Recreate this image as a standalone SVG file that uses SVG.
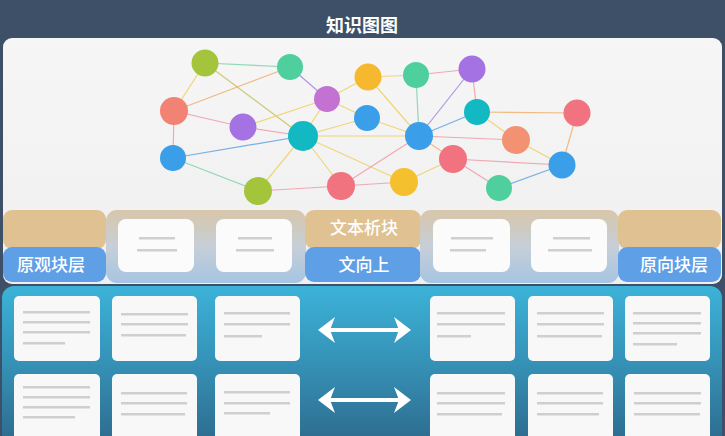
<svg xmlns="http://www.w3.org/2000/svg" width="725" height="436" viewBox="0 0 725 436">
<defs>
<linearGradient id="topPanel" x1="0" y1="0" x2="0" y2="1"><stop offset="0" stop-color="#f6f6f6"/><stop offset="1" stop-color="#efefef"/></linearGradient>
<linearGradient id="mid" x1="0" y1="0" x2="0" y2="1"><stop offset="0" stop-color="#d8c6aa"/><stop offset="0.5" stop-color="#c6cfd8"/><stop offset="1" stop-color="#a6c4e2"/></linearGradient>
<linearGradient id="bottomPanel" x1="0" y1="0" x2="0" y2="1"><stop offset="0" stop-color="#3cb2d8"/><stop offset="0.5" stop-color="#3590b5"/><stop offset="1" stop-color="#2d6a8c"/></linearGradient>
</defs>
<style>
.title{font-family:"Noto Sans CJK SC","Noto Sans",sans-serif;font-weight:700;font-size:18px;fill:#ffffff}
.lbl{font-family:"Noto Sans CJK SC","Noto Sans",sans-serif;font-weight:500;font-size:17px;fill:#ffffff;text-anchor:middle}
.tan{fill:#e0c292}
.blue{fill:#5f9fe6}
.card{fill:#f8f8f8}
.bcard{fill:#fbfbfb}
.ln{fill:#cfcfcf}
.e{stroke-width:1.2;fill:none;opacity:0.85}
.y{stroke:#f0d060}.p{stroke:#f09aa8}.g{stroke:#7ed3a8}.b{stroke:#5fa2e2}.v{stroke:#a585e0}.o{stroke:#f0b070}.ol{stroke:#c8c060}
.arrow{stroke:#ffffff;stroke-width:4;fill:none}
.head{fill:#ffffff}
</style>
<rect x="0" y="0" width="725" height="436" fill="#3d5068"/>
<text class="title" x="362" y="32" text-anchor="middle">知识图图</text>
<rect x="3" y="38" width="719" height="246" rx="9" fill="url(#topPanel)"/>

<g id="connectors">
<line class="e g" x1="205" y1="63" x2="290" y2="67"/>
<line class="e y" x1="205" y1="63" x2="174" y2="111"/>
<line class="e ol" x1="205" y1="63" x2="303" y2="136"/>
<line class="e o" x1="174" y1="111" x2="290" y2="67"/>
<line class="e v" x1="290" y1="67" x2="327" y2="99"/>
<line class="e p" x1="174" y1="111" x2="243" y2="127"/>
<line class="e p" x1="174" y1="111" x2="173" y2="158"/>
<line class="e p" x1="243" y1="127" x2="303" y2="136"/>
<line class="e y" x1="243" y1="127" x2="327" y2="99"/>
<line class="e y" x1="327" y1="99" x2="303" y2="136"/>
<line class="e y" x1="327" y1="99" x2="368" y2="77"/>
<line class="e y" x1="327" y1="99" x2="367" y2="118"/>
<line class="e y" x1="368" y1="77" x2="416" y2="75"/>
<line class="e y" x1="368" y1="77" x2="419" y2="136"/>
<line class="e p" x1="416" y1="75" x2="472" y2="69"/>
<line class="e g" x1="416" y1="75" x2="419" y2="136"/>
<line class="e v" x1="472" y1="69" x2="419" y2="136"/>
<line class="e p" x1="472" y1="69" x2="477" y2="112"/>
<line class="e b" x1="303" y1="136" x2="173" y2="158"/>
<line class="e y" x1="303" y1="136" x2="367" y2="118"/>
<line class="e y" x1="303" y1="136" x2="419" y2="136"/>
<line class="e y" x1="303" y1="136" x2="258" y2="191"/>
<line class="e y" x1="303" y1="136" x2="341" y2="186"/>
<line class="e y" x1="303" y1="136" x2="404" y2="182"/>
<line class="e y" x1="367" y1="118" x2="419" y2="136"/>
<line class="e b" x1="419" y1="136" x2="477" y2="112"/>
<line class="e p" x1="419" y1="136" x2="341" y2="186"/>
<line class="e p" x1="419" y1="136" x2="516" y2="140"/>
<line class="e o" x1="419" y1="136" x2="453" y2="159"/>
<line class="e o" x1="477" y1="112" x2="577" y2="113"/>
<line class="e y" x1="477" y1="112" x2="516" y2="140"/>
<line class="e o" x1="577" y1="113" x2="562" y2="165"/>
<line class="e y" x1="516" y1="140" x2="562" y2="165"/>
<line class="e p" x1="453" y1="159" x2="562" y2="165"/>
<line class="e y" x1="453" y1="159" x2="404" y2="182"/>
<line class="e p" x1="453" y1="159" x2="499" y2="188"/>
<line class="e b" x1="562" y1="165" x2="499" y2="188"/>
<line class="e g" x1="173" y1="158" x2="258" y2="191"/>
<line class="e p" x1="258" y1="191" x2="341" y2="186"/>
<line class="e p" x1="341" y1="186" x2="404" y2="182"/>
</g>

<g id="graph-nodes">
<circle id="n1" cx="205" cy="63" r="13.5" fill="#a4c43c"/>
<circle id="n2" cx="290" cy="67" r="13" fill="#4fcf9e"/>
<circle id="n3" cx="174" cy="111" r="14" fill="#f28274"/>
<circle id="n4" cx="327" cy="99" r="13" fill="#c472d2"/>
<circle id="n5" cx="368" cy="77" r="13.5" fill="#f5b82e"/>
<circle id="n6" cx="416" cy="75" r="13" fill="#4fcf9e"/>
<circle id="n7" cx="472" cy="69" r="13.5" fill="#a472e2"/>
<circle id="n8" cx="243" cy="127" r="13.5" fill="#a472e2"/>
<circle id="n9" cx="303" cy="136" r="15" fill="#12b8c2"/>
<circle id="n10" cx="367" cy="118" r="13" fill="#3a9ee8"/>
<circle id="n11" cx="419" cy="136" r="14" fill="#3a9ee8"/>
<circle id="n12" cx="477" cy="112" r="13" fill="#12b8c2"/>
<circle id="n13" cx="577" cy="113" r="13.5" fill="#f0737f"/>
<circle id="n14" cx="516" cy="140" r="14" fill="#f29272"/>
<circle id="n15" cx="173" cy="158" r="13" fill="#3a9ee8"/>
<circle id="n16" cx="453" cy="159" r="14" fill="#f0737f"/>
<circle id="n17" cx="562" cy="165" r="13.5" fill="#3a9ee8"/>
<circle id="n18" cx="258" cy="191" r="14" fill="#a4c43c"/>
<circle id="n19" cx="341" cy="186" r="14" fill="#f0737f"/>
<circle id="n20" cx="404" cy="182" r="14" fill="#f5c02e"/>
<circle id="n21" cx="499" cy="188" r="13" fill="#4fcf9e"/>
</g>

<g id="left-block">
<rect class="tan" x="3" y="210" width="103" height="39" rx="9"/>
<rect class="blue" x="3" y="247" width="103" height="35" rx="9"/>
<text class="lbl" x="51" y="271">原观块层</text>
</g>
<g id="left-mid">
<rect x="106" y="210" width="200" height="73" rx="11" fill="url(#mid)"/>
<rect class="bcard" x="118" y="219" width="76" height="53" rx="8"/>
<rect class="ln" x="139" y="237" width="36" height="2.5"/>
<rect class="ln" x="137" y="249" width="40" height="2.5"/>
<rect class="bcard" x="216" y="219" width="76" height="53" rx="8"/>
<rect class="ln" x="238" y="237" width="34" height="2.5"/>
<rect class="ln" x="236" y="249" width="38" height="2.5"/>
</g>
<g id="center-block">
<rect class="tan" x="305" y="210" width="116" height="39" rx="9"/>
<rect class="blue" x="305" y="247" width="116" height="35" rx="9"/>
<text class="lbl" x="364" y="234">文本析块</text>
<text class="lbl" x="364" y="271">文向上</text>
</g>
<g id="right-mid">
<rect x="420" y="210" width="199" height="73" rx="11" fill="url(#mid)"/>
<rect class="bcard" x="433" y="219" width="77" height="53" rx="8"/>
<rect class="ln" x="451" y="237" width="42" height="2.5"/>
<rect class="ln" x="450" y="249" width="36" height="2.5"/>
<rect class="bcard" x="531" y="219" width="76" height="53" rx="8"/>
<rect class="ln" x="553" y="237" width="37" height="2.5"/>
<rect class="ln" x="548" y="249" width="44" height="2.5"/>
</g>
<g id="right-block">
<rect class="tan" x="618" y="210" width="103" height="39" rx="9"/>
<rect class="blue" x="618" y="247" width="103" height="35" rx="9"/>
<text class="lbl" x="674" y="271">原向块层</text>
</g>

<rect x="2" y="286" width="720" height="160" rx="12" fill="url(#bottomPanel)"/>

<g id="card-l1"><rect class="card" x="14" y="296" width="86" height="65" rx="5"/>
<rect class="ln" x="23" y="311" width="67" height="2.5"/><rect class="ln" x="23" y="321" width="67" height="2.5"/><rect class="ln" x="23" y="331" width="67" height="2.5"/><rect class="ln" x="23" y="342" width="42" height="2.5"/></g>
<g id="card-l2"><rect class="card" x="112" y="296" width="85" height="65" rx="5"/>
<rect class="ln" x="121" y="313" width="67" height="2.5"/><rect class="ln" x="121" y="323" width="67" height="2.5"/><rect class="ln" x="121" y="334" width="65" height="2.5"/></g>
<g id="card-l3"><rect class="card" x="215" y="296" width="85" height="65" rx="5"/>
<rect class="ln" x="224" y="312" width="66" height="2.5"/><rect class="ln" x="224" y="323" width="66" height="2.5"/><rect class="ln" x="224" y="335" width="38" height="2.5"/></g>
<g id="card-r1"><rect class="card" x="430" y="296" width="85" height="65" rx="5"/>
<rect class="ln" x="437" y="312" width="68" height="2.5"/><rect class="ln" x="437" y="323" width="68" height="2.5"/><rect class="ln" x="437" y="335" width="34" height="2.5"/></g>
<g id="card-r2"><rect class="card" x="528" y="296" width="85" height="65" rx="5"/>
<rect class="ln" x="537" y="312" width="67" height="2.5"/><rect class="ln" x="537" y="323" width="67" height="2.5"/><rect class="ln" x="537" y="335" width="65" height="2.5"/></g>
<g id="card-r3"><rect class="card" x="625" y="296" width="85" height="65" rx="5"/>
<rect class="ln" x="633" y="312" width="68" height="2.5"/><rect class="ln" x="633" y="322" width="68" height="2.5"/><rect class="ln" x="633" y="332" width="68" height="2.5"/><rect class="ln" x="633" y="343" width="44" height="2.5"/></g>

<g id="card-l4"><rect class="card" x="14" y="374" width="86" height="70" rx="5"/>
<rect class="ln" x="23" y="386" width="67" height="2.5"/><rect class="ln" x="23" y="396" width="67" height="2.5"/><rect class="ln" x="23" y="406" width="67" height="2.5"/><rect class="ln" x="23" y="416" width="52" height="2.5"/></g>
<g id="card-l5"><rect class="card" x="112" y="374" width="85" height="70" rx="5"/>
<rect class="ln" x="121" y="392" width="66" height="2.5"/><rect class="ln" x="121" y="402" width="66" height="2.5"/><rect class="ln" x="121" y="413" width="64" height="2.5"/></g>
<g id="card-l6"><rect class="card" x="215" y="374" width="85" height="70" rx="5"/>
<rect class="ln" x="224" y="391" width="66" height="2.5"/><rect class="ln" x="224" y="402" width="66" height="2.5"/><rect class="ln" x="224" y="412" width="46" height="2.5"/></g>
<g id="card-r4"><rect class="card" x="430" y="374" width="85" height="70" rx="5"/>
<rect class="ln" x="437" y="392" width="68" height="2.5"/><rect class="ln" x="437" y="402" width="68" height="2.5"/><rect class="ln" x="437" y="413" width="65" height="2.5"/></g>
<g id="card-r5"><rect class="card" x="528" y="374" width="85" height="70" rx="5"/>
<rect class="ln" x="537" y="392" width="66" height="2.5"/><rect class="ln" x="537" y="402" width="66" height="2.5"/><rect class="ln" x="537" y="413" width="62" height="2.5"/></g>
<g id="card-r6"><rect class="card" x="625" y="374" width="85" height="70" rx="5"/>
<rect class="ln" x="634" y="392" width="67" height="2.5"/><rect class="ln" x="634" y="402" width="67" height="2.5"/><rect class="ln" x="634" y="413" width="66" height="2.5"/></g>

<g id="arrows">
<line class="arrow" x1="326" y1="330" x2="403" y2="330"/>
<path class="head" d="M318,330 L335,317 L330,330 L335,343 Z"/>
<path class="head" d="M411,330 L394,317 L399,330 L394,343 Z"/>
<line class="arrow" x1="326" y1="400" x2="403" y2="400"/>
<path class="head" d="M318,400 L335,387 L330,400 L335,413 Z"/>
<path class="head" d="M411,400 L394,387 L399,400 L394,413 Z"/>
</g>
</svg>
